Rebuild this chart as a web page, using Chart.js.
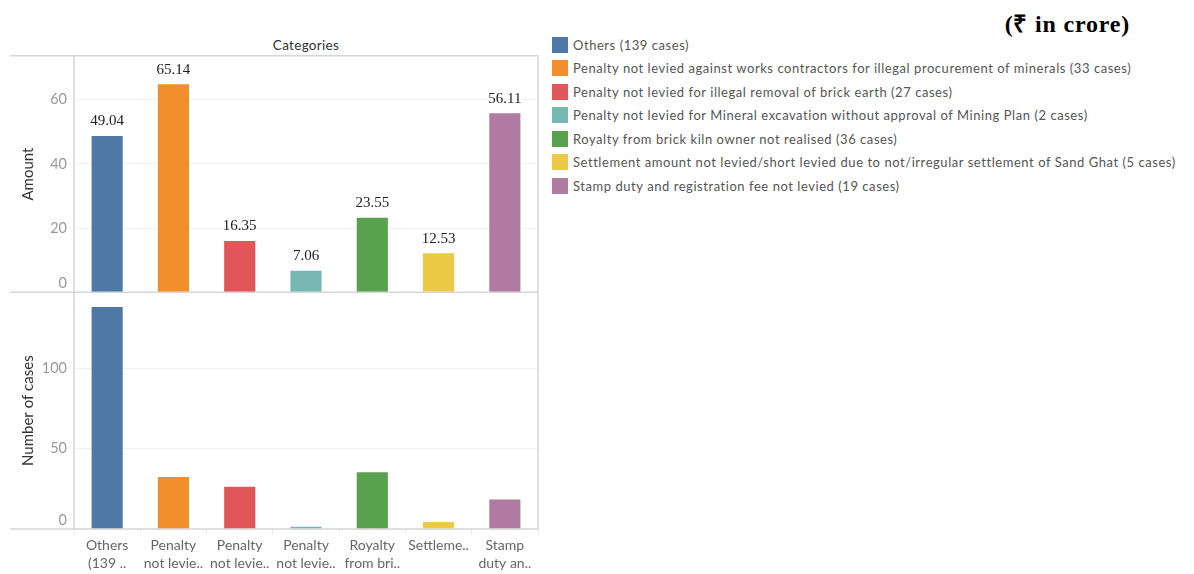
<!DOCTYPE html>
<html>
<head>
<meta charset="utf-8">
<script src="https://cdn.jsdelivr.net/npm/chart.js@4.4.0/dist/chart.umd.min.js"></script>
<style>
  html, body { margin: 0; padding: 0; background: #fff; }
  body { width: 1194px; height: 574px; position: relative; overflow: hidden; font-family: Lato, sans-serif; }
  #wrap { position: absolute; left: 0; top: 40px; width: 545px; height: 534px; }
  #title { position: absolute; left: 74px; width: 464px; top: 37px; text-align: center; font-size: 13.5px; color: #333; letter-spacing: 0.3px; }
  #unit { position: absolute; right: 64px; top: 6px; font: bold 24px "Liberation Serif", "Times New Roman", serif; letter-spacing: 0.8px; color: #000; }
  #legend { position: absolute; left: 552px; top: 33px; }
  .item { height: 23.5px; display: flex; align-items: center; font-size: 13px; letter-spacing: 0.55px; color: #555; white-space: nowrap; }
  .sw { width: 16px; height: 16px; margin-right: 5px; flex: none; }
</style>
</head>
<body>
<div id="unit">(₹ in crore)</div>
<div id="title">Categories</div>
<div id="wrap"><canvas id="chart" width="545" height="534"></canvas></div>
<div id="legend"></div>

<script>
// --- datos ---
const categories = [
  ["Others", "(139 .."],
  ["Penalty", "not levie.."],
  ["Penalty", "not levie.."],
  ["Penalty", "not levie.."],
  ["Royalty", "from bri.."],
  ["Settleme..", ""],
  ["Stamp", "duty an.."]
];
const legendLabels = [
  "Others (139 cases)",
  "Penalty not levied against works contractors for illegal procurement of minerals (33 cases)",
  "Penalty not levied for illegal removal of brick earth (27 cases)",
  "Penalty not levied for Mineral excavation without approval of Mining Plan (2 cases)",
  "Royalty from brick kiln owner not realised (36 cases)",
  "Settlement amount not levied/short levied due to not/irregular settlement of Sand Ghat (5 cases)",
  "Stamp duty and registration fee not levied (19 cases)"
];
const amounts = [49.04, 65.14, 16.35, 7.06, 23.55, 12.53, 56.11];
const cases = [139, 33, 27, 2, 36, 5, 19];
const colors = ["#4e79a7", "#f28e2b", "#e15759", "#76b7b2", "#59a14f", "#edc948", "#b07aa1"];
const amountTicks = [0, 20, 40, 60];
const caseTicks = [0, 50, 100];

// leyenda en html
const legend = document.getElementById("legend");
legendLabels.forEach((txt, i) => {
  const row = document.createElement("div");
  row.className = "item";
  row.innerHTML = '<span class="sw" style="background:' + colors[i] + '"></span><span></span>';
  row.lastChild.textContent = txt;
  legend.appendChild(row);
});

const LINE = "#d6d6d6";

// lineas de los paneles (estilo tableau)
const panelLines = {
  id: "panelLines",
  beforeDatasetsDraw(chart) {
    const { ctx, chartArea: a, scales } = chart;
    ctx.save();
    ctx.strokeStyle = LINE;
    ctx.lineWidth = 1.5;
    const ys = [a.top, scales.amount.getPixelForValue(0), scales.cases.getPixelForValue(0)];
    ys.forEach(y => {
      ctx.beginPath();
      ctx.moveTo(10, y);
      ctx.lineTo(a.right, y);
      ctx.stroke();
    });
    [a.left, a.right].forEach(x => {
      ctx.beginPath();
      ctx.moveTo(x, a.top);
      ctx.lineTo(x, a.bottom);
      ctx.stroke();
    });
    ctx.restore();
  }
};

// etiquetas de valor encima de las barras de monto
const valueLabels = {
  id: "valueLabels",
  afterDatasetsDraw(chart) {
    const { ctx } = chart;
    const meta = chart.getDatasetMeta(0);
    ctx.save();
    ctx.font = '15px "Liberation Serif", "Times New Roman", serif';
    ctx.fillStyle = "#222";
    ctx.textAlign = "center";
    ctx.textBaseline = "bottom";
    meta.data.forEach((bar, i) => {
      ctx.fillText(amounts[i].toFixed(2), bar.x, bar.y - 6);
    });
    ctx.restore();
  }
};

const fixWidth = s => { s.width = 74; };
// el cero va un poco por encima de la linea, como en tableau
const tickText = v => (v === 0 ? ["0", ""] : String(v));

const yTicks = { color: "#999", font: { family: "Lato", size: 14.5 }, padding: 7, callback: tickText };
const yTitleFont = { family: "Lato", size: 15 };

new Chart(document.getElementById("chart"), {
  type: "bar",
  data: {
    labels: categories,
    datasets: [
      {
        label: "Amount",
        data: amounts,
        yAxisID: "amount",
        backgroundColor: colors,
        borderColor: "rgba(255,255,255,0.35)",
        borderWidth: 1,
        grouped: false,
        barPercentage: 0.5,
        categoryPercentage: 1
      },
      {
        label: "Number of cases",
        data: cases,
        yAxisID: "cases",
        backgroundColor: colors,
        borderColor: "rgba(255,255,255,0.35)",
        borderWidth: 1,
        grouped: false,
        barPercentage: 0.5,
        categoryPercentage: 1
      }
    ]
  },
  options: {
    responsive: false,
    animation: false,
    layout: { autoPadding: false, padding: { top: 7, right: 7, left: 0, bottom: 0 } },
    plugins: { legend: { display: false }, tooltip: { enabled: false } },
    scales: {
      x: {
        grid: { display: true, drawOnChartArea: false, offset: true, tickLength: 6, color: "#ececec" },
        border: { display: false },
        ticks: { color: "#666", font: { family: "Lato", size: 14, lineHeight: 1.3 }, padding: 1, maxRotation: 0, autoSkip: false },
        afterFit: s => { s.height = 45; }
      },
      cases: {
        type: "linear",
        position: "left",
        stack: "panels",
        stackWeight: 1,
        min: 0,
        max: 147.5,
        afterBuildTicks: s => { s.ticks = caseTicks.map(v => ({ value: v })); },
        afterFit: fixWidth,
        grid: { color: "#f0f0f0", drawTicks: false },
        border: { display: false },
        ticks: yTicks,
        title: { display: true, text: "Number of cases", color: "#333", font: yTitleFont, padding: { top: 19 } }
      },
      amount: {
        type: "linear",
        position: "left",
        stack: "panels",
        stackWeight: 1,
        min: 0,
        max: 73.75,
        afterBuildTicks: s => { s.ticks = amountTicks.map(v => ({ value: v })); },
        afterFit: fixWidth,
        grid: { color: "#f0f0f0", drawTicks: false },
        border: { display: false },
        ticks: yTicks,
        title: { display: true, text: "Amount", color: "#333", font: yTitleFont, padding: { top: 19 } }
      }
    }
  },
  plugins: [panelLines, valueLabels]
});
</script>
</body>
</html>
